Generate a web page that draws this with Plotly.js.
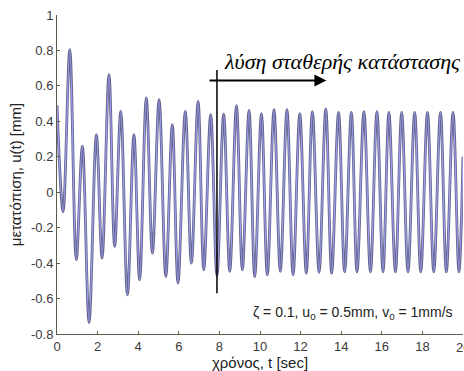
<!DOCTYPE html>
<html>
<head>
<meta charset="utf-8">
<script src="https://cdn.plot.ly/plotly-3.0.1.min.js"></script>
<style>html,body{margin:0;padding:0;background:#fff;}#chart{width:464px;height:371px;}</style>
</head>
<body>
<div id="chart"></div>
<script>
// time of each local extreme (s)
const timeSec = [0, 0.30, 0.63, 0.95, 1.25, 1.58, 1.94, 2.22, 2.56, 2.84, 3.14, 3.47, 3.79, 4.07, 4.40, 4.70,
  5.03, 5.36, 5.68, 5.96, 6.32, 6.62, 6.95, 7.23, 7.57, 7.88, 8.21, 8.51, 8.84, 9.13, 9.46, 9.74,
  10.07, 10.36, 10.69, 11.00, 11.33, 11.63, 11.96, 12.28, 12.58, 12.91, 13.24, 13.53, 13.87, 14.17,
  14.50, 14.78, 15.12, 15.44, 15.76, 16.06, 16.35, 16.67, 16.98, 17.29, 17.62, 17.92, 18.25, 18.56,
  18.89, 19.18, 19.51, 19.80, 20.0];
// displacement at each of those instants (mm)
const dispMm = [0.49, -0.11, 0.805, -0.38, 0.26, -0.735, 0.325, -0.372, 0.664, -0.306, 0.456, -0.579, 0.325, -0.494, 0.532, -0.344,
  0.523, -0.476, 0.381, -0.513, 0.456, -0.40, 0.513, -0.438, 0.438, -0.47, 0.44, -0.447, 0.489, -0.438, 0.462, -0.476,
  0.443, -0.466, 0.466, -0.447, 0.466, -0.466, 0.443, -0.457, 0.455, -0.452, 0.47, -0.457, 0.45, -0.45,
  0.45, -0.45, 0.455, -0.45, 0.455, -0.45, 0.45, -0.45, 0.45, -0.45, 0.45, -0.45, 0.45, -0.45,
  0.45, -0.45, 0.45, -0.45, 0.2];

const xTickVals = [0, 2, 4, 6, 8, 10, 12, 14, 16, 18];
const xTickText = ['0', '2', '4', '6', '8', '10', '12', '14', '16', '18'];
const xLastTick = 20;           // drawn separately: it is cut by the right edge
const xLastTickText = '20';
const yTickVals = [-0.8, -0.6, -0.4, -0.2, 0, 0.2, 0.4, 0.6, 0.8, 1];
const yTickText = ['-0.8', '-0.6', '-0.4', '-0.2', '0', '0.2', '0.4', '0.6', '0.8', '1'];

// steady-state marker: vertical line time, its extent, arrow
const steadyStart = 7.88;
const markerLow = -0.57, markerHigh = 0.69;
const arrowFrom = 7.44, arrowTo = 13.27, arrowLevel = 0.63;

const axisColor = '#5c5c4c';
const tickFont = {family: 'Liberation Sans, Arial, sans-serif', size: 13, color: '#3a3a3a'};

const traces = [
  {x: timeSec, y: dispMm, type: 'scatter', mode: 'lines',
   line: {color: '#64648e', width: 2.8, shape: 'spline', smoothing: 1}, hoverinfo: 'skip', showlegend: false},
  {x: timeSec, y: dispMm, type: 'scatter', mode: 'lines',
   line: {color: '#a0a0ee', width: 1.2, shape: 'spline', smoothing: 1}, showlegend: false}
];

const layout = {
  width: 464, height: 371,
  margin: {l: 57, r: 1, t: 15, b: 37},
  paper_bgcolor: '#ffffff', plot_bgcolor: '#ffffff',
  showlegend: false,
  xaxis: {
    range: [0, 20], tickvals: xTickVals, ticktext: xTickText,
    ticks: 'inside', ticklen: 3, tickcolor: axisColor, tickwidth: 1,
    showline: true, linecolor: axisColor, linewidth: 1, mirror: false,
    showgrid: false, zeroline: false, tickfont: tickFont,
    title: {text: 'χρόνος, t [sec]', standoff: 3,
            font: {family: 'Liberation Sans, Arial, sans-serif', size: 15, color: '#222'}}
  },
  yaxis: {
    range: [-0.8, 1], tickvals: yTickVals, ticktext: yTickText,
    ticks: 'inside', ticklen: 3, tickcolor: axisColor, tickwidth: 1,
    showline: true, linecolor: axisColor, linewidth: 1, mirror: false,
    showgrid: false, zeroline: false, tickfont: tickFont,
    title: {text: 'μετατόπιση, u(t) [mm]', standoff: 5,
            font: {family: 'Liberation Sans, Arial, sans-serif', size: 15, color: '#222'}}
  },
  shapes: [
    {type: 'line', xref: 'x', yref: 'y', x0: steadyStart, x1: steadyStart, y0: markerLow, y1: markerHigh,
     line: {color: '#000', width: 1.5}}
  ],
  annotations: [
    {xref: 'x', yref: 'paper', x: xLastTick, y: 0, yanchor: 'top', yshift: -4, showarrow: false,
     text: xLastTickText, font: tickFont},
    {xref: 'x', yref: 'y', axref: 'x', ayref: 'y', x: arrowTo, y: arrowLevel, ax: arrowFrom, ay: arrowLevel,
     text: '', showarrow: true, arrowhead: 2, arrowsize: 1.2, arrowwidth: 2, arrowcolor: '#000'},
    {xref: 'x', yref: 'y', x: 8.15, y: 0.735, xanchor: 'left', yanchor: 'middle', showarrow: false,
     text: 'λύση σταθερής κατάστασης',
     font: {family: 'Liberation Serif, Times New Roman, serif', size: 22, color: '#000', style: 'italic'}},
    {xref: 'x', yref: 'y', x: 9.55, y: -0.68, xanchor: 'left', yanchor: 'middle', showarrow: false,
     text: 'ζ = 0.1, u<sub>0</sub> = 0.5mm, v<sub>0</sub> = 1mm/s',
     font: {family: 'Liberation Sans, Arial, sans-serif', size: 14, color: '#222'}}
  ]
};

Plotly.newPlot('chart', traces, layout, {displayModeBar: false, staticPlot: true});
</script>
</body>
</html>
